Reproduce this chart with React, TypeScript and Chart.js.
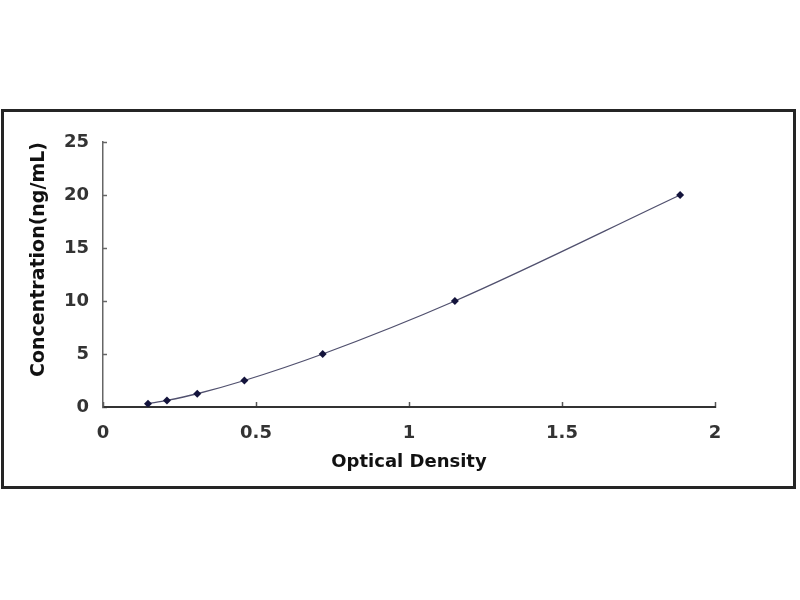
import React, { useEffect, useRef } from "react";
import { Chart, registerables } from "chart.js";

Chart.register(...registerables);

const opticalDensity = [0.147, 0.209, 0.308, 0.462, 0.718, 1.15, 1.886];
const concentration = [0.312, 0.625, 1.25, 2.5, 5, 10, 20];
const xTickValues = [0, 0.5, 1, 1.5, 2];
const xTickLabels = ["0", "0.5", "1", "1.5", "2"];
const yTickValues = [0, 5, 10, 15, 20, 25];
const yTickLabels = ["0", "5", "10", "15", "20", "25"];
const xTitle = "Optical Density";
const yTitle = "Concentration(ng/mL)";

export default function App() {
  const ref = useRef<HTMLCanvasElement | null>(null);

  useEffect(() => {
    document.body.style.margin = "0";
    const ctx = ref.current;
    if (!ctx) return;
    const chart = new Chart(ctx, {
      type: "scatter",
      data: {
        datasets: [
          {
            data: opticalDensity.map((x, i) => ({ x, y: concentration[i] })),
            showLine: true,
            borderColor: "#50506e",
            borderWidth: 1.3,
            cubicInterpolationMode: "monotone",
            pointStyle: "rectRot",
            pointRadius: 4,
            pointBackgroundColor: "#14143c",
            pointBorderColor: "#14143c",
            pointBorderWidth: 0,
          },
        ],
      },
      options: {
        responsive: false,
        animation: false,
        devicePixelRatio: 1,
        layout: { padding: { left: 24, right: 85, top: 142, bottom: 123 } },
        plugins: { legend: { display: false }, tooltip: { enabled: false } },
        scales: {
          x: {
            type: "linear",
            min: 0,
            max: 2,
            afterBuildTicks: (s: any) => {
              s.ticks = xTickValues.map((value) => ({ value }));
            },
            afterFit: (s: any) => {
              s.height = 70;
            },
            grid: {
              drawOnChartArea: false,
              drawTicks: true,
              tickLength: -5,
              tickColor: "#555",
              tickWidth: 1.5,
            },
            border: { color: "#333", width: 2 },
            ticks: {
              padding: 21,
              color: "#333",
              font: { family: "DejaVu Sans", weight: "bold", size: 18 },
              callback: (v: any) => xTickLabels[xTickValues.indexOf(Number(v))] ?? String(v),
            },
            title: {
              display: true,
              text: xTitle,
              color: "#111",
              font: { family: "DejaVu Sans", weight: "bold", size: 18 },
            },
          },
          y: {
            type: "linear",
            min: 0,
            max: 25,
            afterBuildTicks: (s: any) => {
              s.ticks = yTickValues.map((value) => ({ value }));
            },
            afterFit: (s: any) => {
              s.width = 79;
            },
            grid: {
              drawOnChartArea: false,
              drawTicks: true,
              tickLength: -4,
              tickColor: "#666",
              tickWidth: 1.5,
            },
            border: { color: "#666", width: 1.5 },
            ticks: {
              padding: 18,
              color: "#333",
              font: { family: "DejaVu Sans", weight: "bold", size: 18 },
              callback: (v: any) => yTickLabels[yTickValues.indexOf(Number(v))] ?? String(v),
            },
            title: {
              display: true,
              text: yTitle,
              align: "end",
              color: "#111",
              font: { family: "DejaVu Sans", weight: "bold", size: 19 },
            },
          },
        },
      },
    });
    return () => chart.destroy();
  }, []);

  return (
    <div style={{ position: "relative", width: 800, height: 600, background: "#fff" }}>
      <div
        style={{
          position: "absolute",
          left: 1,
          top: 109,
          width: 789,
          height: 374,
          border: "3px solid #252525",
        }}
      />
      <canvas
        ref={ref}
        width={800}
        height={600}
        style={{ position: "absolute", left: 0, top: 0 }}
      />
    </div>
  );
}
